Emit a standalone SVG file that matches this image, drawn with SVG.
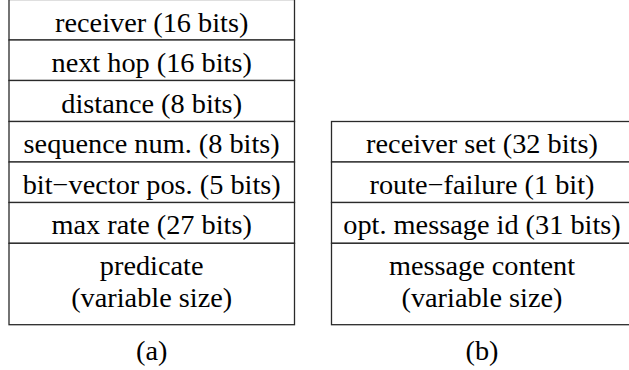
<svg xmlns="http://www.w3.org/2000/svg" width="629" height="370" viewBox="0 0 629 370">
  <style>
    .cell { fill: #ffffff; stroke: #2a2a2a; stroke-width: 1.3; }
    .lbl { font-family: "Liberation Serif", "Times New Roman", serif; font-size: 28.3px; fill: #000000; text-anchor: middle; }
  </style>
  <rect width="629" height="370" fill="#ffffff"/>

  <!-- (a) header layout -->
  <g id="header-a">
    <g id="a-receiver">
      <rect class="cell" x="9" y="-0.5" width="285.5" height="40.5"/>
      <text class="lbl" x="151.7" y="31.5">receiver (16 bits)</text>
    </g>
    <g id="a-next-hop">
      <rect class="cell" x="9" y="40" width="285.5" height="40.5"/>
      <text class="lbl" x="151.7" y="72">next hop (16 bits)</text>
    </g>
    <g id="a-distance">
      <rect class="cell" x="9" y="80.5" width="285.5" height="41"/>
      <text class="lbl" x="151.7" y="112.5">distance (8 bits)</text>
    </g>
    <g id="a-sequence">
      <rect class="cell" x="9" y="121.5" width="285.5" height="40.5"/>
      <text class="lbl" x="151.7" y="153">sequence num. (8 bits)</text>
    </g>
    <g id="a-bitvector">
      <rect class="cell" x="9" y="162" width="285.5" height="40.5"/>
      <text class="lbl" x="151.7" y="193.5">bit−vector pos. (5 bits)</text>
    </g>
    <g id="a-maxrate">
      <rect class="cell" x="9" y="202.5" width="285.5" height="40.8"/>
      <text class="lbl" x="151.7" y="234">max rate (27 bits)</text>
    </g>
    <g id="a-predicate">
      <rect class="cell" x="9" y="243.3" width="285.5" height="81.4"/>
      <text class="lbl" x="151.7" y="274.5">predicate</text>
      <text class="lbl" x="151.7" y="306.5">(variable size)</text>
    </g>
    <text class="lbl" x="151.7" y="360">(a)</text>
  </g>

  <!-- (b) header layout -->
  <g id="header-b">
    <g id="b-receiver-set">
      <rect class="cell" x="331.5" y="121.5" width="302" height="40.5"/>
      <text class="lbl" x="482" y="153">receiver set (32 bits)</text>
    </g>
    <g id="b-route-failure">
      <rect class="cell" x="331.5" y="162" width="302" height="40.5"/>
      <text class="lbl" x="482" y="193.5">route−failure (1 bit)</text>
    </g>
    <g id="b-message-id">
      <rect class="cell" x="331.5" y="202.5" width="302" height="40.8"/>
      <text class="lbl" x="482" y="234">opt. message id (31 bits)</text>
    </g>
    <g id="b-content">
      <rect class="cell" x="331.5" y="243.3" width="302" height="81.4"/>
      <text class="lbl" x="482" y="274.5">message content</text>
      <text class="lbl" x="482" y="306.5">(variable size)</text>
    </g>
    <text class="lbl" x="482" y="360">(b)</text>
  </g>

  <g id="connectors"/>
</svg>
